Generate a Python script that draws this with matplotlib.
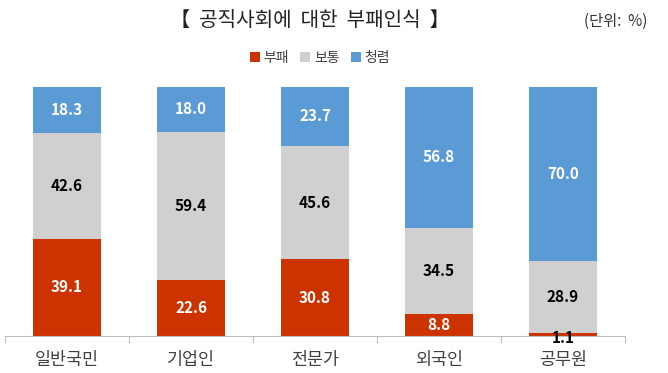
import matplotlib
matplotlib.use("Agg")
import matplotlib.pyplot as plt

plt.rcParams['font.family'] = ['Noto Sans CJK KR', 'DejaVu Sans']

categories = ['일반국민', '기업인', '전문가', '외국인', '공무원']
corrupt = [39.1, 22.6, 30.8, 8.8, 1.1]
normal = [42.6, 59.4, 45.6, 34.5, 28.9]
clean = [18.3, 18.0, 23.7, 56.8, 70.0]
series_names = ['부패', '보통', '청렴']
colors = ['#CC3300', '#D0D0D0', '#5B9BD5']

fig = plt.figure(figsize=(6.68, 3.73), dpi=100)
ax = fig.add_axes([5/668, 37/373, 620/668, 249/373])

x = range(len(categories))
w = 0.55
b1 = ax.bar(x, corrupt, w, color=colors[0], label=series_names[0])
b2 = ax.bar(x, normal, w, bottom=corrupt, color=colors[1], label=series_names[1])
bottom3 = [a + b for a, b in zip(corrupt, normal)]
b3 = ax.bar(x, clean, w, bottom=bottom3, color=colors[2], label=series_names[2])

for i in x:
    if corrupt[i] > 5:
        ax.text(i, corrupt[i] / 2, f'{corrupt[i]:.1f}', ha='center', va='center',
                color='white', fontsize=11, fontweight='bold')
    else:
        ax.text(i, corrupt[i] / 2 - 1.5, f'{corrupt[i]:.1f}', ha='center', va='center',
                color='black', fontsize=11, fontweight='bold')
    ax.text(i, corrupt[i] + normal[i] / 2, f'{normal[i]:.1f}', ha='center', va='center',
            color='black', fontsize=11, fontweight='bold')
    ax.text(i, bottom3[i] + clean[i] / 2, f'{clean[i]:.1f}', ha='center', va='center',
            color='white', fontsize=11, fontweight='bold')

ax.set_xlim(-0.5, len(categories) - 0.5)
ax.set_ylim(0, 100)
ax.set_yticks([])
for s in ['top', 'right', 'left']:
    ax.spines[s].set_visible(False)
ax.spines['bottom'].set_color('#BFBFBF')
ax.set_xticks([i - 0.5 for i in range(len(categories) + 1)], minor=False)
ax.set_xticklabels([''] * (len(categories) + 1))
ax.tick_params(axis='x', length=5, color='#BFBFBF')
for i, c in enumerate(categories):
    ax.text(i, -6, c, ha='center', va='top', fontsize=12.5, color='#404040')

fig.text(310/668, 1 - 20/373, '【  공직사회에  대한  부패인식  】', ha='center', va='center',
         fontsize=14.5, color='#222222')
fig.text(616/668, 1 - 21/373, '(단위:  %)', ha='center', va='center', fontsize=11, color='#333333')

fig.legend(handles=[b1, b2, b3], labels=series_names, loc='center',
           bbox_to_anchor=(320/668, 1 - 58/373), ncol=3, frameon=False,
           fontsize=10, handlelength=0.7, handleheight=0.7, handletextpad=0.3,
           columnspacing=0.8, labelcolor='#404040')

fig.savefig('out.png', dpi=100)
